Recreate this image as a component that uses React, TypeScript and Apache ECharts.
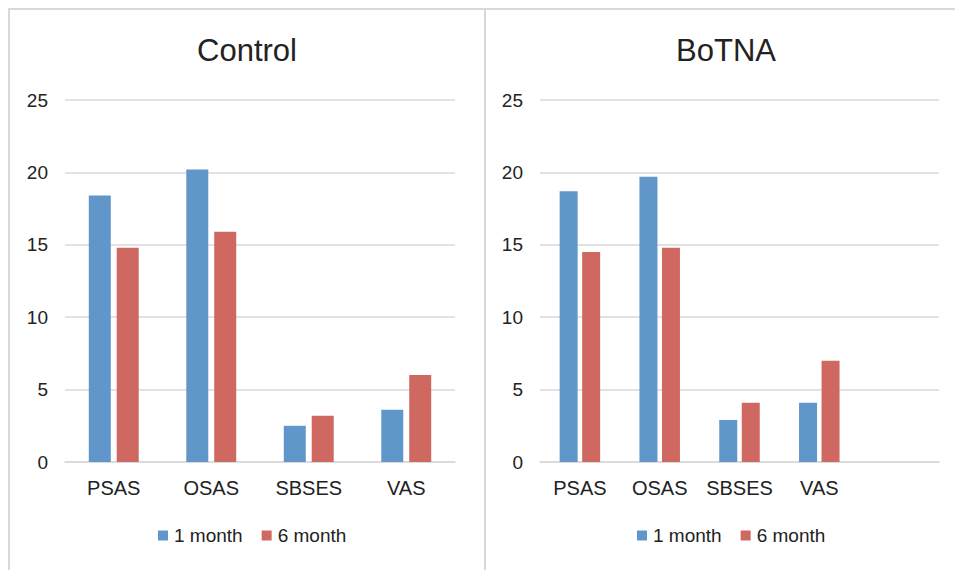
import React, { useEffect, useRef } from "react";
import * as echarts from "echarts";

const categoriesLeft = ["PSAS", "OSAS", "SBSES", "VAS"];
const categoriesRight = ["PSAS", "OSAS", "SBSES", "VAS", ""];
const controlOneMonth = [18.4, 20.2, 2.5, 3.6];
const controlSixMonth = [14.8, 15.9, 3.2, 6.0];
const botnaOneMonth = [18.7, 19.7, 2.9, 4.1, null];
const botnaSixMonth = [14.5, 14.8, 4.1, 7.0, null];
const seriesNames = ["1 month", "6 month"];
const panelTitles = ["Control", "BoTNA"];

const FONT = "'Liberation Sans', Arial, sans-serif";
const BLUE = "#6096c9";
const RED = "#cf6861";
const GRID_COLOR = "#d9d9d9";
const TEXT = "#222222";

export default function App() {
  const ref = useRef<HTMLDivElement>(null);
  useEffect(() => {
    if (!ref.current) return;
    const chart = echarts.init(ref.current, undefined, { renderer: "svg" });
    const yAxisCommon = {
      type: "value",
      min: 0,
      max: 25,
      interval: 5,
      axisLine: { show: false },
      axisTick: { show: false },
      axisLabel: { color: TEXT, fontSize: 19, fontFamily: FONT, margin: 17 },
      splitLine: { lineStyle: { color: GRID_COLOR, width: 1.5 } },
    };
    const xAxisCommon = {
      type: "category",
      axisLine: { lineStyle: { color: GRID_COLOR, width: 1.5 } },
      axisTick: { show: false },
      axisLabel: { color: TEXT, fontSize: 20, fontFamily: FONT, margin: 16, interval: 0 },
    };
    const legendCommon = {
      data: seriesNames,
      selectedMode: false,
      icon: "rect",
      itemWidth: 10,
      itemHeight: 10,
      itemGap: 19,
      textStyle: { color: TEXT, fontSize: 19, fontFamily: FONT, padding: [0, 0, 0, 1] },
      top: 521,
    };
    chart.setOption({
      animation: false,
      backgroundColor: "#ffffff",
      grid: [
        { left: 65, top: 100, width: 390, height: 362 },
        { left: 540, top: 100, width: 399, height: 362 },
      ],
      xAxis: [
        { ...xAxisCommon, gridIndex: 0, data: categoriesLeft },
        { ...xAxisCommon, gridIndex: 1, data: categoriesRight },
      ],
      yAxis: [
        { ...yAxisCommon, gridIndex: 0 },
        { ...yAxisCommon, gridIndex: 1 },
      ],
      legend: [
        { ...legendCommon, left: 153 },
        { ...legendCommon, left: 632 },
      ],
      series: [
        {
          name: seriesNames[0], type: "bar", xAxisIndex: 0, yAxisIndex: 0,
          data: controlOneMonth, barWidth: 22, barGap: "27%",
          itemStyle: { color: BLUE },
        },
        {
          name: seriesNames[1], type: "bar", xAxisIndex: 0, yAxisIndex: 0,
          data: controlSixMonth, barWidth: 22, barGap: "27%",
          itemStyle: { color: RED },
        },
        {
          name: seriesNames[0], type: "bar", xAxisIndex: 1, yAxisIndex: 1,
          data: botnaOneMonth, barWidth: 18, barGap: "25%",
          itemStyle: { color: BLUE },
        },
        {
          name: seriesNames[1], type: "bar", xAxisIndex: 1, yAxisIndex: 1,
          data: botnaSixMonth, barWidth: 18, barGap: "25%",
          itemStyle: { color: RED },
        },
      ],
      graphic: [
        { type: "line", shape: { x1: 8, y1: 9, x2: 955, y2: 9 }, style: { stroke: GRID_COLOR, lineWidth: 2 }, silent: true },
        { type: "line", shape: { x1: 9, y1: 8, x2: 9, y2: 570 }, style: { stroke: GRID_COLOR, lineWidth: 2 }, silent: true },
        { type: "line", shape: { x1: 485, y1: 8, x2: 485, y2: 570 }, style: { stroke: GRID_COLOR, lineWidth: 2 }, silent: true },
        {
          type: "text", x: 247, y: 50,
          style: { text: panelTitles[0], fill: TEXT, fontSize: 31, fontFamily: FONT, textAlign: "center", textVerticalAlign: "middle" },
        },
        {
          type: "text", x: 726, y: 50,
          style: { text: panelTitles[1], fill: TEXT, fontSize: 31, fontFamily: FONT, textAlign: "center", textVerticalAlign: "middle" },
        },
      ],
    });
    return () => chart.dispose();
  }, []);
  return (
    <div
      ref={ref}
      style={{ position: "fixed", left: 0, top: 0, width: 955, height: 570 }}
    />
  );
}
